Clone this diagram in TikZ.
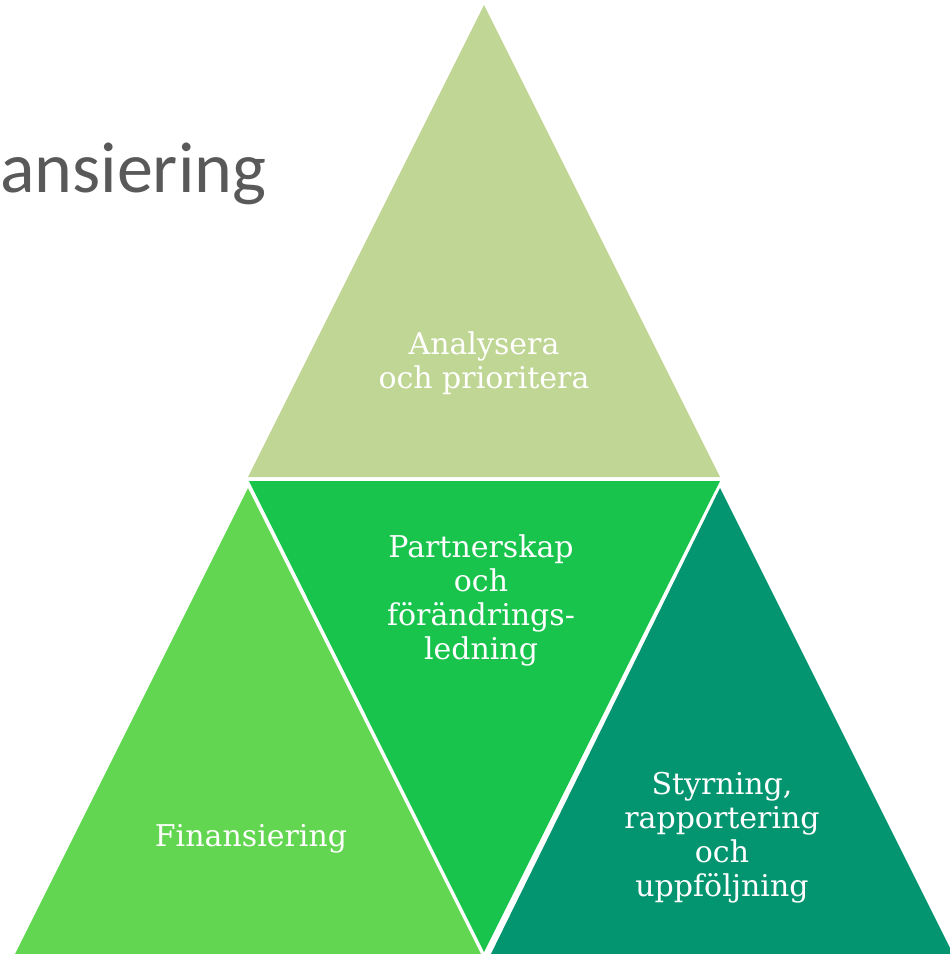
\documentclass[tikz,border=0pt]{standalone}
\usepackage{fontspec}
\setmainfont{DejaVu Serif}
\newfontfamily\rubrikfont{Carlito}
\usetikzlibrary{positioning}

\definecolor{analysgreen}{HTML}{C0D694}
\definecolor{partnergreen}{HTML}{18C44C}
\definecolor{finansgreen}{HTML}{62D650}
\definecolor{styrgreen}{HTML}{039470}
\definecolor{rubrikgray}{HTML}{595959}

\begin{document}
\begin{tikzpicture}[x=1pt,y=-1pt]
  \tikzstyle{piece}=[draw=none]
  \tikzstyle{area}=[text=white,align=center,inner sep=0pt,
                    font=\fontsize{30}{34}\selectfont]

  \useasboundingbox (0,0) rectangle (950,954);
  \clip (0,0) rectangle (950,954);

  % corners of the four triangles
  \coordinate (t1) at (484,5);
  \coordinate (t2) at (248,477);
  \coordinate (t3) at (720,477);
  \coordinate (m1) at (249,481);
  \coordinate (m2) at (720,481);
  \coordinate (m3) at (484,952);
  \coordinate (l1) at (248,488);
  \coordinate (l2) at (12,960);
  \coordinate (l3) at (484,960);
  \coordinate (r1) at (720,488);
  \coordinate (r2) at (488,960);
  \coordinate (r3) at (956,960);

  \fill[piece,analysgreen]  (t1) -- (t2) -- (t3) -- cycle;
  \fill[piece,partnergreen] (m1) -- (m2) -- (m3) -- cycle;
  \fill[piece,finansgreen]  (l1) -- (l2) -- (l3) -- cycle;
  \fill[piece,styrgreen]    (r1) -- (r2) -- (r3) -- cycle;

  \node[area] (analys)  at (484,363) {Analysera\\och prioritera};
  \node[area] (partner) at (481,600) {Partnerskap\\och\\förändrings-\\ledning};
  \node[area] (finans)  at (251,839) {Finansiering};
  \node[area] (styr)    at (722,838) {Styrning,\\rapportering\\och\\uppföljning};

  \node[anchor=base west,inner sep=0pt,text=rubrikgray,
        font=\rubrikfont\fontsize{72}{80}\selectfont] (rubrik) at (0,192) {ansiering};
\end{tikzpicture}
\end{document}
